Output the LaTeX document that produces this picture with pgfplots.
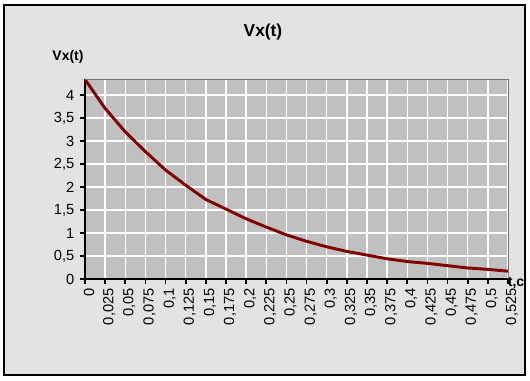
\documentclass[border=0pt]{standalone}
\usepackage{pgfplots}
\pgfplotsset{compat=1.18}
\usepackage{fontspec}
\setmainfont{Liberation Sans}
\definecolor{chartbg}{HTML}{E3E3E3}
\definecolor{plotbg}{HTML}{C0C0C0}
\definecolor{curve}{HTML}{800000}
\begin{document}
\begin{tikzpicture}
\path[use as bounding box, fill=white] (0,0) rectangle (397.5pt,285pt);
\draw[black, line width=0.8pt, fill=chartbg] (3pt,3.75pt) rectangle (393.75pt,281.25pt);
\begin{axis}[
  at={(63.75pt,75.75pt)}, anchor=south west,
  width=317.25pt, height=150pt, scale only axis,
  xmin=0, xmax=21, ymin=0, ymax=4.35,
  axis background/.style={fill=plotbg},
  axis line style={draw=gray!90!black, line width=0.75pt},
  separate axis lines,
  x axis line style={draw=black, line width=1.7pt},
  y axis line style={draw=black, line width=1.7pt},
  axis x line*=bottom, axis y line*=left,
  xtick={0,...,21},
  xticklabels={{0},{0,025},{0,05},{0,075},{0,1},{0,125},{0,15},{0,175},{0,2},{0,225},{0,25},{0,275},{0,3},{0,325},{0,35},{0,375},{0,4},{0,425},{0,45},{0,475},{0,5},{0,525}},
  ytick={0,0.5,1,1.5,2,2.5,3,3.5,4},
  yticklabels={{0},{0,5},{1},{1,5},{2},{2,5},{3},{3,5},{4}},
  tick align=outside,
  major tick length=3.5pt,
  tick style={black, line width=1.3pt},
  grid=major,
  major grid style={white, line width=1pt},
  x tick label style={rotate=90, anchor=east, font=\fontsize{11}{13}\selectfont, yshift=-3pt},
  y tick label style={font=\fontsize{11}{13}\selectfont, xshift=-1pt},
  clip=false,
]
\addplot[curve, line width=2.2pt, mark=none] coordinates {
(0,4.34) (1,3.71) (2,3.20) (3,2.77) (4,2.37) (5,2.04) (6,1.73) (7,1.52)
(8,1.31) (9,1.13) (10,0.96) (11,0.82) (12,0.70) (13,0.60) (14,0.52)
(15,0.44) (16,0.38) (17,0.34) (18,0.29) (19,0.24) (20,0.21) (21,0.17)
};
\end{axis}
\draw[gray!90!black, line width=0.75pt] (63.75pt,225.75pt) -- (381pt,225.75pt) -- (381pt,75.75pt);
\node[font=\bfseries\fontsize{13}{15}\selectfont] at (197.25pt,261pt) {Vx(t)};
\node[font=\bfseries\fontsize{10.5}{12}\selectfont] at (51pt,242.25pt) {Vx(t)};
\node[font=\bfseries\fontsize{10.5}{12}\selectfont] at (387pt,72.75pt) {t,c};
\end{tikzpicture}
\end{document}
